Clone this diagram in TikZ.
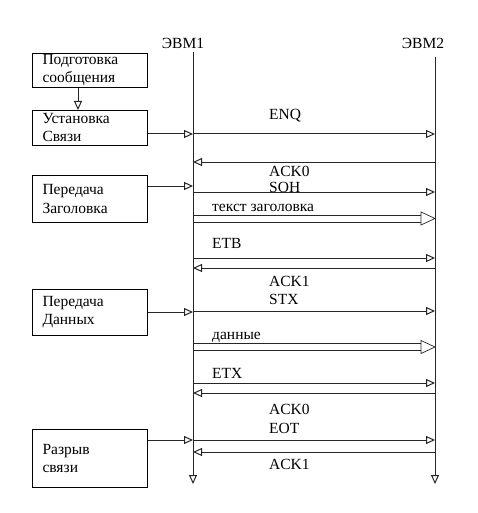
\documentclass[tikz,border=0pt]{standalone}
\usepackage{fontspec}
\setmainfont{Liberation Serif}
\usetikzlibrary{arrows.meta}
\begin{document}
\begin{tikzpicture}[x=1pt,y=-1pt,
  every node/.style={font=\fontsize{15.5}{18}\selectfont, inner sep=0pt},
  boxst/.style={draw, line width=1pt, minimum width=115pt, text width=95pt, align=left, anchor=north west, inner xsep=10pt},
  lbl/.style={anchor=west},
  ln/.style={line width=1pt, draw=black!85},
  tip/.style={-{Triangle[open, length=9pt, width=8pt]}},
  msg/.style={ln, tip}]
\useasboundingbox (0,0) rectangle (477,513);
% headers
\node (h1) at (183,43) {ЭВМ1};
\node (h2) at (423,43) {ЭВМ2};
% lifelines
\coordinate (l1t) at (193,52);  \coordinate (l1b) at (193,484);
\coordinate (l2t) at (435,57);  \coordinate (l2b) at (435,484);
\draw[msg] (l1t) -- (l1b);
\draw[msg] (l2t) -- (l2b);
% boxes
\node[boxst, minimum height=34pt] (b1) at (32,53) {Подготовка\\сообщения};
\node[boxst, minimum height=35pt] (b2) at (32,110) {Установка\\Связи};
\node[boxst, minimum height=47pt] (b3) at (32,175) {Передача\\Заголовка};
\node[boxst, minimum height=46pt] (b4) at (32,289) {Передача\\Данных};
\node[boxst, minimum height=58pt] (b5) at (32,429) {Разрыв\\связи};
\draw[msg] (b1.south -| 78,0) -- (b2.north -| 78,0);
% box to lifeline arrows
\coordinate (e2) at (193,134);
\coordinate (e3) at (193,186);
\coordinate (e4) at (193,312);
\coordinate (e5) at (193,440);
\draw[msg] (b2.east |- e2) -- (e2);
\draw[msg] (b3.east |- e3) -- (e3);
\draw[msg] (b4.east |- e4) -- (e4);
\draw[msg] (b5.east |- e5) -- (e5);
% messages: coordinates on lifelines
\foreach \n/\y in {m1/134, m2/162, m3/192, m5/258, m6/268, m7/311, m9/383, m10/393, m11/440, m12/452}{
  \coordinate (\n a) at (193,\y);
  \coordinate (\n b) at (435,\y);
}
\draw[msg] (m1a) -- (m1b);
\draw[msg] (m2b) -- (m2a);
\draw[msg] (m3a) -- (m3b);
\draw[msg] (m5a) -- (m5b);
\draw[msg] (m6b) -- (m6a);
\draw[msg] (m7a) -- (m7b);
\draw[msg] (m9a) -- (m9b);
\draw[msg] (m10b) -- (m10a);
\draw[msg] (m11a) -- (m11b);
\draw[msg] (m12b) -- (m12a);
% double (block) arrows
\coordinate (d1s) at (193,218.5); \coordinate (d1e) at (435,218.5);
\coordinate (d2s) at (193,347);   \coordinate (d2e) at (435,347);
\foreach \s/\e in {d1s/d1e, d2s/d2e}{
  \draw[ln] ([yshift=-3.5pt]\s) -- ([xshift=-14pt,yshift=-3.5pt]\e);
  \draw[ln] ([yshift=3.5pt]\s) -- ([xshift=-14pt,yshift=3.5pt]\e);
  \draw[ln, line width=0.7pt, fill=white] ([xshift=-14pt,yshift=-6.5pt]\e) -- (\e) -- ([xshift=-14pt,yshift=6.5pt]\e) -- cycle;
}
% labels
\node[lbl] (t1) at (269,116) {ENQ};
\node[lbl] (t2) at (269,171) {ACK0};
\node[lbl] (t3) at (269,187) {SOH};
\node[lbl] (t4) at (212,208) {текст заголовка};
\node[lbl] (t5) at (212,243) {ETB};
\node[lbl] (t6) at (269,281) {ACK1};
\node[lbl] (t7) at (269,299) {STX};
\node[lbl] (t8) at (212,337) {данные};
\node[lbl] (t9) at (212,373) {ETX};
\node[lbl] (t10) at (269,409) {ACK0};
\node[lbl] (t11) at (269,428) {EOT};
\node[lbl] (t12) at (269,464) {ACK1};
\end{tikzpicture}
\end{document}
